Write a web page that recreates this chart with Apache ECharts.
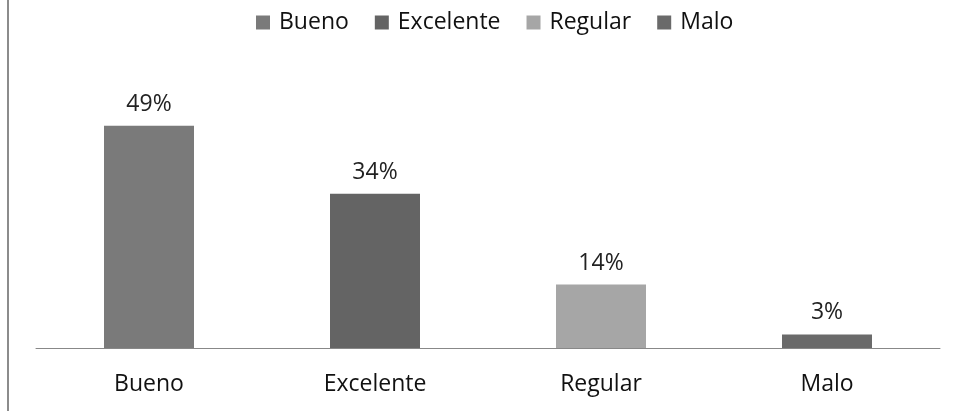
<!DOCTYPE html>
<html><head><meta charset="utf-8">
<script src="https://cdn.jsdelivr.net/npm/echarts@6/dist/echarts.min.js"></script>
<style>html,body{margin:0;padding:0;background:#fff}#c{width:959px;height:411px}</style>
</head><body><div id="c"></div>
<script>
const categories = ['Bueno', 'Excelente', 'Regular', 'Malo'];
const values = [49, 34, 14, 3];
const colors = ['#7a7a7a', '#646464', '#a6a6a6', '#6a6a6a'];

const font = '"Open Sans", "Noto Sans", sans-serif';
const series = categories.map((name, i) => ({
  name: name,
  type: 'bar',
  stack: 'all',
  barWidth: 90,
  itemStyle: { color: colors[i] },
  label: { show: true, position: 'top', distance: 10, formatter: '{c}%', fontFamily: font, fontSize: 23, color: '#222' },
  data: categories.map((c, j) => j === i ? values[i] : '-')
}));

const chart = echarts.init(document.getElementById('c'));
chart.setOption({
  animation: false,
  legend: {
    top: 6, left: 251, itemWidth: 14, itemHeight: 14, itemGap: 26,
    icon: 'rect',
    textStyle: { fontFamily: font, fontSize: 23, color: '#111', padding: [0, 0, 0, 4] },
    data: categories
  },
  grid: { left: 36, right: 19, top: 76, bottom: 63 },
  xAxis: {
    type: 'category', data: categories,
    axisLine: { lineStyle: { color: '#888', width: 1 } },
    axisTick: { show: false },
    axisLabel: { fontFamily: font, fontSize: 23, color: '#111', margin: 25 }
  },
  yAxis: { type: 'value', min: 0, max: 60, show: false, splitLine: { show: false } },
  graphic: [{ type: 'line', shape: { x1: 8, y1: 0, x2: 8, y2: 411 }, style: { stroke: '#8c8c8c', lineWidth: 2 } }],
  series: series
});
</script></body></html>
